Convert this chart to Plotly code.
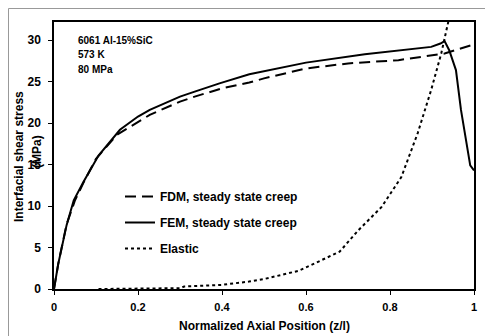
import plotly.graph_objects as go

# ---- data ----
fdm_x = [0, 0.01, 0.03, 0.05, 0.07, 0.10, 0.15, 0.20, 0.228, 0.30, 0.335, 0.40, 0.465, 0.50, 0.60, 0.70, 0.82, 0.93, 1.00]
fdm_y = [0, 3.0, 7.8, 10.7, 12.8, 15.7, 18.6, 20.2, 21.0, 22.6, 23.2, 24.2, 24.9, 25.4, 26.6, 27.2, 27.6, 28.4, 29.5]

fem_x = [0, 0.01, 0.03, 0.047, 0.07, 0.106, 0.157, 0.20, 0.228, 0.30, 0.335, 0.394, 0.465, 0.60, 0.74, 0.898, 0.92, 0.93, 0.941, 0.957, 0.969, 0.98, 0.991, 1.00]
fem_y = [0, 3.0, 7.7, 10.7, 12.9, 16.1, 19.2, 20.8, 21.6, 23.2, 23.8, 24.8, 25.9, 27.3, 28.3, 29.2, 29.6, 29.9, 28.8, 26.4, 21.6, 18.0, 14.9, 14.3]

el_x = [0.106, 0.20, 0.30, 0.31, 0.40, 0.464, 0.50, 0.583, 0.60, 0.68, 0.725, 0.78, 0.827, 0.866, 0.898, 0.922, 0.94]
el_y = [0.0, 0.05, 0.1, 0.3, 0.5, 0.9, 1.2, 2.2, 2.6, 4.5, 7.1, 9.9, 13.5, 18.8, 24.0, 28.4, 32.5]

x_ticks = [0, 0.2, 0.4, 0.6, 0.8, 1]
x_tick_labels = ["0", "0.2", "0.4", "0.6", "0.8", "1"]
y_ticks = [0, 5, 10, 15, 20, 25, 30]

info_lines = ["6061 Al-15%SiC", "573 K", "80 MPa"]

FONT = "Liberation Sans, Arial, sans-serif"

# page body has an 8px margin, so the figure is drawn 8px smaller and offset
W, H = 485, 328
L, T, PW, PH = 46, 14, 420, 267

fig = go.Figure()
fig.add_trace(go.Scatter(x=fdm_x, y=fdm_y, mode="lines", name="<b>FDM, steady state creep</b>",
                         legendgroup="a", line=dict(color="black", width=2, dash="11px,6px")))
fig.add_trace(go.Scatter(x=fem_x, y=fem_y, mode="lines", name="<b>FEM, steady state creep</b>",
                         legendgroup="b", line=dict(color="black", width=2)))
fig.add_trace(go.Scatter(x=el_x, y=el_y, mode="lines", name="<b>Elastic</b>",
                         legendgroup="c", line=dict(color="black", width=2, dash="3px,3px")))

annotations = []
info_y = [41, 55, 69.5]  # page pixel centres
for t, py in zip(info_lines, info_y):
    annotations.append(dict(x=(76 - 54) / PW, y=(289 - py) / PH, xref="paper", yref="paper",
                            text="<b>" + t + "</b>",
                            showarrow=False, xanchor="left", yanchor="middle",
                            font=dict(size=10, color="black", family=FONT)))
annotations.append(dict(x=(19 - 54) / PW, y=(289 - 157) / PH, xref="paper", yref="paper",
                        text="<b>Interfacial shear stress</b>",
                        showarrow=False, textangle=-90, xanchor="center", yanchor="middle",
                        font=dict(size=12, color="black", family=FONT)))
annotations.append(dict(x=(37 - 54) / PW, y=(289 - 152) / PH, xref="paper", yref="paper", text="<b>(MPa)</b>",
                        showarrow=False, textangle=-90, xanchor="center", yanchor="middle",
                        font=dict(size=12, color="black", family=FONT)))
annotations.append(dict(x=(264 - 54) / PW, y=(289 - 326) / PH, xref="paper", yref="paper",
                        text="<b>Normalized Axial Position (z/l)</b>",
                        showarrow=False, xanchor="center", yanchor="middle",
                        font=dict(size=12, color="black", family=FONT)))

fig.update_layout(
    width=W, height=H,
    margin=dict(l=L, r=W - L - PW, t=T, b=H - T - PH, pad=0),
    paper_bgcolor="white", plot_bgcolor="white",
    font=dict(family=FONT, color="black"),
    showlegend=True,
    legend=dict(x=(120 - 54) / PW, y=(289 - 182) / PH, xanchor="left", yanchor="top",
                bgcolor="rgba(0,0,0,0)",
                font=dict(size=12, color="black", family=FONT), tracegroupgap=7),
    annotations=annotations,
    shapes=[dict(type="line", xref="paper", yref="paper", x0=(0.5 - L) / PW, x1=1.2,
                 y0=(T + PH - 0.5) / PH, y1=(T + PH - 0.5) / PH,
                 line=dict(color="#999999", width=1)),
            dict(type="line", xref="paper", yref="paper", x0=(0.5 - L) / PW, x1=(0.5 - L) / PW,
                 y0=(T + PH - 0.5) / PH, y1=-0.3,
                 line=dict(color="#999999", width=1))],
)
fig.update_xaxes(range=[0, 1], tickvals=x_ticks, ticktext=[f"<b>{t}</b>" for t in x_tick_labels],
                 showgrid=False, zeroline=False, showline=True, linecolor="black", linewidth=1.5,
                 mirror=True, ticks="outside", ticklen=4, tickcolor="black",
                 tickfont=dict(size=11, color="black", family=FONT), ticklabelstandoff=3)
fig.update_yaxes(range=[0, 32.2], tickvals=y_ticks, ticktext=[f"<b>{t}</b>" for t in y_ticks],
                 showgrid=False, zeroline=False, showline=True, linecolor="black", linewidth=1.5,
                 mirror=True, ticks="outside", ticklen=4, tickcolor="black",
                 tickfont=dict(size=12, color="black", family=FONT), ticklabelstandoff=5)

fig.write_html("out.html")
